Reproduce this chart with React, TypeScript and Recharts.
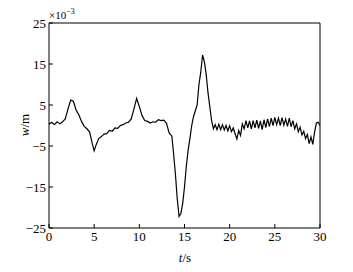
import React from 'react';
import { LineChart, Line, XAxis, YAxis } from 'recharts';

// time (s) and displacement (x10^-3 m)
const tValues = [
  0, 0.3, 0.6, 0.9, 1.2, 1.5, 1.8, 2.1, 2.4, 2.7, 3.0, 3.3, 3.6, 3.9, 4.2, 4.5, 4.8, 5.0, 5.2, 5.5,
  5.8, 6.1, 6.4, 6.7, 7.0, 7.3, 7.6, 7.9, 8.2, 8.5, 8.8, 9.1, 9.4, 9.7, 10.0, 10.3, 10.6, 10.9, 11.2, 11.5,
  11.8, 12.1, 12.4, 12.7, 13.0, 13.3, 13.6, 13.8, 14.0, 14.2, 14.4, 14.6, 14.8, 15.0, 15.2, 15.4, 15.6, 15.8, 16.0, 16.2,
  16.4, 16.6, 16.8, 17.0, 17.2, 17.4, 17.6, 17.8, 18.0,
  18.2, 18.4, 18.6, 18.8, 19.0, 19.2, 19.4, 19.6, 19.8, 20.0, 20.2, 20.4, 20.6, 20.8, 21.0, 21.2, 21.4, 21.6, 21.8, 22.0,
  22.2, 22.4, 22.6, 22.8, 23.0, 23.2, 23.4, 23.6, 23.8, 24.0, 24.2, 24.4, 24.6, 24.8, 25.0, 25.2, 25.4, 25.6, 25.8, 26.0,
  26.2, 26.4, 26.6, 26.8, 27.0, 27.2, 27.4, 27.6, 27.8, 28.0, 28.2, 28.4, 28.6, 28.8, 29.0, 29.2, 29.4, 29.6, 29.8, 30.0,
];

const wValues = [
  0.3, 0.8, 0.2, 0.9, 0.4, 0.9, 1.6, 4.0, 6.2, 5.9, 3.8, 2.6, 1.0, -0.2, -0.8, -1.6, -4.5, -6.2, -4.8, -3.2,
  -2.7, -2.1, -2.0, -1.2, -1.4, -0.6, -0.7, 0.0, 0.2, 0.6, 0.8, 1.6, 4.0, 6.6, 4.6, 2.4, 1.2, 1.0, 0.6, 0.9,
  0.8, 1.4, 1.2, 1.3, 0.6, -1.8, -2.6, -7, -12, -18, -22.2, -21.5, -19, -15, -10, -6, -3.2, 0, 2.2, 3.6,
  5, 10, 13, 17.2, 15.5, 12.5, 8, 4.6, 1.2,
  -0.8, 0.2, -1.0, 0.3, -1.0, 0.2, -1.1, 0.0, -1.3, -0.1, -1.5, -0.6, -2.0, -3.3, -1.2, -2.4, 0.4, -0.8, 1.2, -0.6,
  1.1, -0.8, 1.2, -0.6, 1.3, -0.7, 1.1, -1.0, 1.4, -0.5, 1.6, -0.3, 1.8, 0.0, 2.0, 0.2, 1.8, 0.0, 1.9, 0.1,
  1.6, -0.2, 1.8, -0.3, 1.2, -0.8, 0.4, -1.5, -0.4, -2.3, -1.4, -3.2, -2.2, -4.4, -2.8, -4.6, -1.6, 0.6, 0.8, 0.0,
];

const xTicks = [0, 5, 10, 15, 20, 25, 30];
const yTicks = [-25, -15, -5, 5, 15, 25];

const data = tValues.map((t, i) => ({ t, w: wValues[i] }));

const font = 'Liberation Serif, Times New Roman, serif';
const tickStyle = { fontSize: 13, fill: '#000', fontFamily: font };
const fmt = (v: number) => (v < 0 ? `\u2212${Math.abs(v)}` : `${v}`);

export default function App() {
  return (
    <div style={{ position: 'absolute', left: 0, top: 0, background: '#fff' }}>
      <LineChart width={353} height={272} data={data} margin={{ top: 22, right: 32, left: 0, bottom: 0 }}>
        <XAxis
          dataKey="t"
          type="number"
          domain={[0, 30]}
          ticks={xTicks}
          height={44}
          stroke="#000"
          tickSize={-4}
          tickMargin={8}
          tick={tickStyle}
          interval={0}
        />
        <XAxis
          xAxisId="top"
          dataKey="t"
          orientation="top"
          type="number"
          domain={[0, 30]}
          ticks={xTicks}
          height={1}
          stroke="#000"
          tickSize={-4}
          tick={false}
          interval={0}
        />
        <YAxis
          type="number"
          domain={[-25, 25]}
          ticks={yTicks}
          width={49}
          stroke="#000"
          tickSize={-4}
          tickMargin={7}
          tick={tickStyle}
          tickFormatter={fmt}
          interval={0}
        />
        <YAxis
          yAxisId="right"
          orientation="right"
          type="number"
          domain={[-25, 25]}
          ticks={yTicks}
          width={1}
          stroke="#000"
          tickSize={-4}
          tick={false}
          interval={0}
        />
        <Line
          type="linear"
          dataKey="w"
          stroke="#000"
          strokeWidth={1.2}
          dot={false}
          isAnimationActive={false}
        />
        <Line
          xAxisId="top"
          yAxisId="right"
          type="linear"
          dataKey="w"
          stroke="none"
          dot={false}
          activeDot={false}
          legendType="none"
          isAnimationActive={false}
        />
        <text x={49} y={19} fontFamily={font} fontSize={11} fill="#000">
          ×10
          <tspan dy={-5} fontSize={8}>−3</tspan>
        </text>
        <text
          x={26}
          y={125}
          transform="rotate(-90 26 125)"
          textAnchor="middle"
          dominantBaseline="middle"
          fontFamily={font}
          fontSize={13}
          fill="#000"
        >
          <tspan fontStyle="italic">w</tspan>/m
        </text>
        <text x={185} y={262} textAnchor="middle" fontFamily={font} fontSize={13} fill="#000">
          <tspan fontStyle="italic">t</tspan>/s
        </text>
      </LineChart>
    </div>
  );
}
